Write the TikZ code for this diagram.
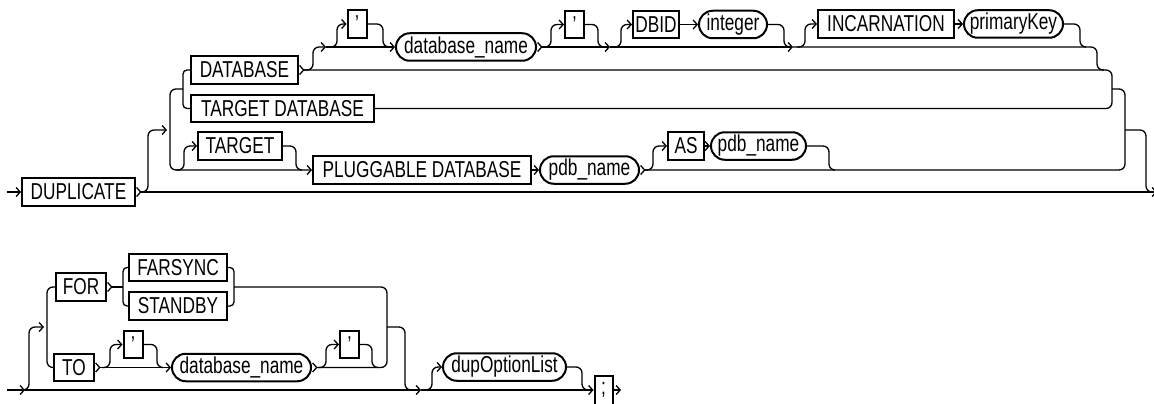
\documentclass[tikz,border=0pt]{standalone}
\usepackage{fontspec}
\setmainfont{Liberation Sans}[FakeStretch=0.75]
\usetikzlibrary{arrows.meta,shapes.misc}
\tikzset{
  conn/.style={line width=1.3pt, rounded corners=6pt},
  tight/.style={rounded corners=4pt},
  ar/.style={-{Straight Barb[length=4pt,width=9pt]}},
  ch/.style={{Straight Barb[reversed,length=4pt,width=9pt]}-},
  char/.style={{Straight Barb[reversed,length=4pt,width=9pt]}-{Straight Barb[length=4pt,width=9pt]}},
  kw/.style={draw, rectangle, line width=2pt, minimum height=27.5pt, inner sep=0pt,
             font=\fontsize{23pt}{25pt}\selectfont},
  nt/.style={draw, rounded rectangle, line width=2pt, minimum height=27.5pt, inner sep=0pt,
             font=\fontsize{23pt}{25pt}\selectfont},
}
\begin{document}
\begin{tikzpicture}[x=1pt,y=-1pt]
\useasboundingbox[fill=white] (0,0) rectangle (1154,404);
% ---------- row 1 nodes ----------
\node[kw, minimum width=113pt] (dup) at (78.5,192) {DUPLICATE};
\node[kw, minimum width=107pt] (db) at (244.5,70) {DATABASE};
\node[kw, minimum width=183pt] (tdb) at (282.5,108.5) {TARGET DATABASE};
\node[kw, minimum width=84pt] (tgt) at (240,146) {TARGET};
\node[kw, minimum width=218pt] (plug) at (422,170) {PLUGGABLE DATABASE};
\node[nt, minimum width=99pt] (pdb1) at (589.5,170) {pdb\_name};
\node[kw, minimum width=36pt] (as) at (686,146) {AS};
\node[nt, minimum width=95pt] (pdb2) at (758.5,146) {pdb\_name};
\node[kw, minimum width=19pt] (q1) at (357,24) {’};
\node[nt, minimum width=140pt] (dbn) at (466,47) {database\_name};
\node[kw, minimum width=19pt] (q2) at (574.5,24.5) {’};
\node[kw, minimum width=46pt] (dbid) at (656,24.5) {DBID};
\node[nt, minimum width=68pt] (int) at (733,24.5) {integer};
\node[kw, minimum width=136pt] (inc) at (886,24) {INCARNATION};
\node[nt, minimum width=99pt] (pk) at (1013.5,24) {primaryKey};
% ---------- row 2 nodes ----------
\node[kw, minimum width=50pt] (for) at (81,287) {FOR};
\node[kw, minimum width=98pt] (far) at (178,267.5) {FARSYNC};
\node[kw, minimum width=98pt] (stb) at (178,306) {STANDBY};
\node[kw, minimum width=40pt] (to) at (74,367.5) {TO};
\node[kw, minimum width=19pt] (q3) at (133,344.5) {’};
\node[nt, minimum width=139pt] (dbn2) at (241.5,367.5) {database\_name};
\node[kw, minimum width=19pt] (q4) at (349.5,344.5) {’};
\node[nt, minimum width=123pt] (dol) at (504.5,367) {dupOptionList};
\node[kw, minimum width=18pt, minimum height=29pt] (semi) at (603.5,390) {;};
% ---------- row 1 connectors ----------
\coordinate (s1) at (7,192);
\coordinate (e1) at (1157,192);
\coordinate (r1) at (142,192);
\coordinate (L1) at (170,130);
\coordinate (Li) at (183,89);
\coordinate (g1) at (326,47);
\coordinate (g2) at (610,47);
\coordinate (g3) at (793,47);
\coordinate (R1) at (1125,130);
\draw[conn,ar] (s1) -- (dup.west);
\draw[conn,char] (dup.east) -- (e1);
\draw[conn,ar,shorten >=3pt] (r1) -| (148,130) -- (L1);
\draw[conn,ar] (Li) -| (170,170) -- (plug.west);
\draw[conn,tight] (db.west) -| (183,108.5) -- (tdb.west);
\draw[conn,ar] (176,170) -| (184,146) -- (tgt.west);
\draw[conn] (tgt.east) -| (296,170) -- (302,170);
\draw[conn,ar] (plug.east) -- (pdb1.west);
\draw[conn,ch] (pdb1.east) -| (1125,89) -- (1112,89);
\draw[conn,ar] (645,170) -| (653,146) -- (as.west);
\draw[conn,ar] (as.east) -- (pdb2.west);
\draw[conn] (pdb2.east) -| (829,170) -- (835,170);
\draw[conn,ch] (db.east) -| (1112,108.5) -- (tdb.east);
\draw[conn,ar] (304,70) -| (313,47) -- (g1);
\draw[conn,ar] (g1) -- (dbn.west);
\draw[conn,ar] (329,47) -| (337,24) -- (q1.west);
\draw[conn] (q1.east) -| (383,47) -- (389,47);
\draw[conn,char] (dbn.east) -- (g2);
\draw[conn,ar] (543,47) -| (551,24.5) -- (q2.west);
\draw[conn] (q2.east) -| (598,47) -- (604,47);
\draw[conn,ar] (g2) -- (g3);
\draw[conn,ar] (613,47) -| (621,24.5) -- (dbid.west);
\draw[conn,ar] (dbid.east) -- (int.west);
\draw[conn] (int.east) -| (784,47) -- (790,47);
\draw[conn] (g3) -| (1097,70) -- (1104,70);
\draw[conn,ar] (797,47) -| (805,24) -- (inc.west);
\draw[conn,ar] (inc.east) -- (pk.west);
\draw[conn] (pk.east) -| (1080,47) -- (1086,47);
\draw[conn] (R1) -| (1146,192) -- (1152,192);
% ---------- row 2 connectors ----------
\coordinate (s2) at (7,390);
\coordinate (c1) at (25,390);
\coordinate (c2) at (421,390);
\coordinate (L2) at (47,327);
\coordinate (R2) at (387,327);
\draw[conn,ar] (s2) -- (c1);
\draw[conn,ar] (c1) -- (c2);
\draw[conn,ar] (c2) -- (semi.west);
\draw[conn,ar,shorten >=3pt] (c1) -| (29,327) -- (L2);
\draw[conn] (for.west) -| (47,367.5) -- (to.west);
\draw[conn,ch] (for.east) -- (123,287);
\draw[conn,tight] (far.west) -| (123,306) -- (stb.west);
\draw[conn,tight] (far.east) -| (234,306) -- (stb.east);
\draw[conn,ch] (dbn2.east) -| (387,287) -- (234,287);
\draw[conn] (R2) -| (405,390) -- (411,390);
\draw[conn,char] (to.east) -- (dbn2.west);
\draw[conn,ar] (102,367.5) -| (110,344.5) -- (q3.west);
\draw[conn] (q3.east) -| (157,367.5) -- (163,367.5);
\draw[conn,ar] (318,367.5) -| (326,344.5) -- (q4.west);
\draw[conn] (q4.east) -| (372,367.5) -- (378,367.5);
\draw[conn,ar] (424,390) -| (432,367) -- (dol.west);
\draw[conn] (dol.east) -| (582,390) -- (588,390);
\draw[conn,ar] (semi.east) -- (621,390);
\end{tikzpicture}
\end{document}
